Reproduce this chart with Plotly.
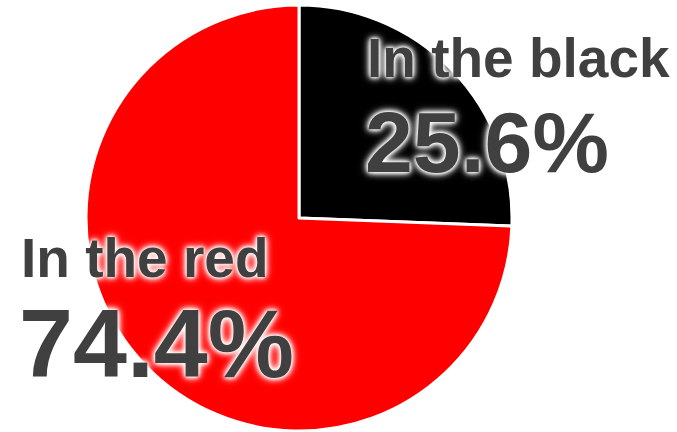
import plotly.graph_objects as go

labels = ["In the black", "In the red"]
values = [25.6, 74.4]
colors = ["#000000", "#ff0000"]
pct_text = ["25.6%", "74.4%"]

W, H = 677, 432

fig = go.Figure(go.Pie(
    labels=labels, values=values, sort=False, direction="clockwise", rotation=0,
    marker=dict(colors=colors, line=dict(color="white", width=3)),
    textinfo="none", hoverinfo="label+percent", showlegend=False,
    domain=dict(x=[(299 - 213) / W, (299 + 213) / W], y=[0, 428 / H]),
))

shadow = "0px 0px 3px white, 0px 0px 5px white, 0px 0px 7px white, 0px 0px 10px white"
font_family = "Liberation Sans, Arial, sans-serif"
txt_color = "#404040"

def px(x):
    return x / W

def py(y):
    return 1 - y / H

annos = [
    (labels[0], 365, 91, 55),
    (pct_text[0], 363, 192, 86),
    (labels[1], 19, 291, 55),
    (pct_text[1], 17, 400, 97),
]
for text, x, y, size in annos:
    fig.add_annotation(
        text="<b>%s</b>" % text, x=px(x), y=py(y), xref="paper", yref="paper",
        xanchor="left", yanchor="bottom", showarrow=False,
        font=dict(family=font_family, size=size, color=txt_color, shadow=shadow),
    )

fig.update_layout(
    width=W, height=H, margin=dict(l=0, r=0, t=0, b=0),
    paper_bgcolor="white", plot_bgcolor="white",
)

fig.write_html("out.html")
